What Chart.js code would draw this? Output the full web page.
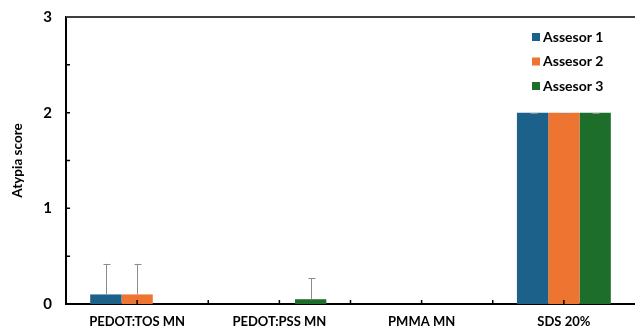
<!DOCTYPE html>
<html>
<head>
<meta charset="utf-8">
<script src="https://cdn.jsdelivr.net/npm/chart.js@4/dist/chart.umd.min.js"></script>
<style>
    html, body {margin: 0; padding: 0; background: #fff;}
    #wrap {width: 635px; height: 329px; position: relative;}
</style>
</head>
<body>
<div id="wrap"><canvas id="chart"></canvas></div>
<script>
const categories = ["PEDOT:TOS MN", "PEDOT:PSS MN", "PMMA MN", "SDS 20%"];
const seriesNames = ["Assesor 1", "Assesor 2", "Assesor 3"];
const assesor1 = [0.1, 0, 0, 2];
const assesor2 = [0.1, 0, 0, 2];
const assesor3 = [0, 0.05, 0, 2];
const error1 = [0.32, 0, 0, 0];
const error2 = [0.32, 0, 0, 0];
const error3 = [0, 0.22, 0, 0];
const yTicks = [0, 0.5, 1, 1.5, 2, 2.5, 3];

const colors = ["#1b6189", "#ed7431", "#1d6e2a"];
const errors = [error1, error2, error3];
const FONT = "Lato, 'Open Sans', sans-serif";

// error bars (upward only) + inside tick marks + top frame line
const extrasPlugin = {
    id: "extras",
    afterDatasetsDraw(chart) {
        const ctx = chart.ctx;
        ctx.save();
        ctx.strokeStyle = "#8c8c8c";
        ctx.lineWidth = 1;
        chart.data.datasets.forEach((ds, i) => {
            const meta = chart.getDatasetMeta(i);
            meta.data.forEach((bar, j) => {
                const v = ds.data[j];
                const e = errors[i][j];
                if (!v && !e) return;
                const x = Math.round(bar.x) + 0.5;
                const y0 = chart.scales.y.getPixelForValue(v);
                const y1 = chart.scales.y.getPixelForValue(v + e);
                ctx.beginPath();
                ctx.moveTo(x, y0);
                ctx.lineTo(x, y1);
                ctx.moveTo(x - 3, Math.round(y1) + 0.5);
                ctx.lineTo(x + 4, Math.round(y1) + 0.5);
                ctx.stroke();
            });
        });
        ctx.restore();
    },
    afterDraw(chart) {
        const ctx = chart.ctx;
        const area = chart.chartArea;
        const ys = chart.scales.y;
        ctx.save();
        ctx.strokeStyle = "#000";
        ctx.lineWidth = 1.5;
        ctx.beginPath();
        yTicks.forEach((t) => {
            const y = ys.getPixelForValue(t);
            ctx.moveTo(area.left, y);
            ctx.lineTo(area.left + 4, y);
        });
        const step = (area.right - area.left) / (categories.length * 2);
        for (let k = 1; k < categories.length * 2; k++) {
            const x = area.left + k * step;
            ctx.moveTo(x, area.bottom);
            ctx.lineTo(x, area.bottom - 4);
        }
        ctx.stroke();
        ctx.strokeStyle = "#404040";
        ctx.lineWidth = 2;
        ctx.beginPath();
        ctx.moveTo(area.left, area.top);
        ctx.lineTo(chart.width, area.top);
        ctx.stroke();

        // legend
        ctx.font = "bold 14px " + FONT;
        ctx.textBaseline = "middle";
        ctx.textAlign = "left";
        const rowsY = [37, 61.5, 86];
        seriesNames.forEach((name, i) => {
            ctx.fillStyle = colors[i];
            ctx.fillRect(532, rowsY[i] - 4, 8, 8);
            ctx.fillStyle = "#000";
            ctx.fillText(name, 543, rowsY[i]);
        });
        ctx.restore();
    },
};

new Chart(document.getElementById("chart"), {
    type: "bar",
    data: {
        labels: categories,
        datasets: [assesor1, assesor2, assesor3].map((d, i) => ({
            label: seriesNames[i],
            data: d,
            backgroundColor: colors[i],
            borderWidth: 0,
            categoryPercentage: 0.66,
            barPercentage: 1,
        })),
    },
    options: {
        responsive: true,
        maintainAspectRatio: false,
        animation: false,
        layout: {padding: {top: 17, right: 0, left: 0, bottom: 0}},
        plugins: {
            legend: {display: false},
            tooltip: {enabled: false},
        },
        scales: {
            x: {
                grid: {display: false, drawTicks: false},
                border: {display: true, color: "#000", width: 2},
                ticks: {
                    color: "#000",
                    padding: 10,
                    font: {family: FONT, size: 13, weight: "bold"},
                    maxRotation: 0,
                },
                afterFit(scale) {
                    scale.height = 25;
                    scale.paddingLeft = 0;
                    scale.paddingRight = 0;
                },
            },
            y: {
                min: 0,
                max: 3,
                afterBuildTicks(scale) {
                    scale.ticks = yTicks.map((v) => ({value: v}));
                },
                grid: {display: false, drawTicks: false},
                border: {display: true, color: "#000", width: 2},
                ticks: {
                    color: "#000",
                    padding: 14,
                    font: {family: FONT, size: 15, weight: "bold"},
                    callback: (v) => (Number.isInteger(v) ? v : ""),
                },
                title: {
                    display: true,
                    text: "Atypia score",
                    color: "#000",
                    font: {family: FONT, size: 13.5, weight: "bold"},
                    padding: {top: 10, bottom: 0},
                },
                afterFit(scale) {
                    scale.width = 66;
                    scale.paddingTop = 0;
                    scale.paddingBottom = 0;
                },
            },
        },
    },
    plugins: [extrasPlugin],
});
</script>
</body>
</html>
